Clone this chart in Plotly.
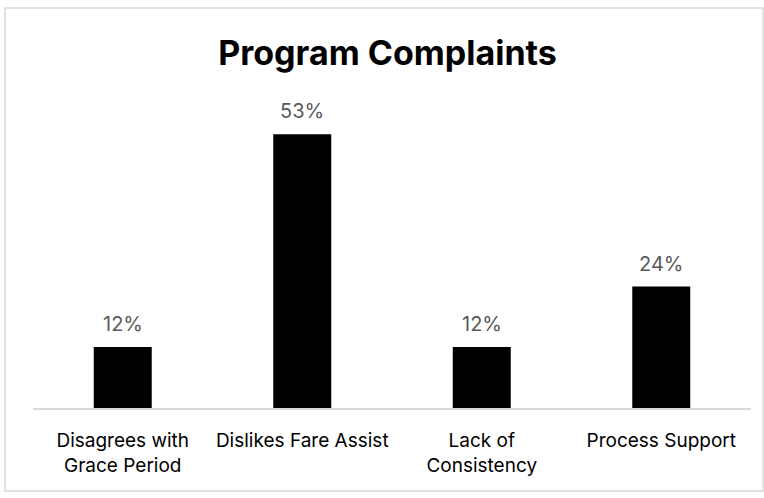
import plotly.graph_objects as go

categories = ["Disagrees with<br>Grace Period", "Dislikes Fare Assist", "Lack of<br>Consistency", "Process Support"]
values = [0.118, 0.53, 0.118, 0.235]
labels = ["12%", "53%", "12%", "24%"]

FONT = "Inter"

fig = go.Figure(go.Bar(
    x=categories, y=values,
    marker=dict(color="black", line=dict(width=0)),
    hoverinfo="skip",
))

for c, v, s in zip(categories, values, labels):
    fig.add_annotation(x=c, y=v, text=s, showarrow=False, yanchor="bottom",
                       yshift=9, font=dict(color="#595959", size=20, family=FONT))

W, H = 764, 498
l, r, t, b = 33, 13, 98, 90
pw, ph = W - l - r, H - t - b

def px(x):
    return (x - l) / pw

def py(y):
    return (H - b - y) / ph

fig.update_layout(
    width=W, height=H,
    margin=dict(l=l, r=r, t=t, b=b),
    paper_bgcolor="white", plot_bgcolor="white",
    bargap=0.677,
    showlegend=False,
    title=dict(text="<b>Program Complaints</b>", x=387.5 / W, xanchor="center",
               y=1 - 53 / H, yanchor="middle",
               font=dict(size=34, color="black", family=FONT)),
    xaxis=dict(showline=True, linecolor="#d9d9d9", linewidth=2, ticks="",
               tickfont=dict(size=19, color="black", family=FONT),
               ticklabelstandoff=14,
               showgrid=False, fixedrange=True),
    yaxis=dict(range=[0, 0.6], visible=False, showgrid=False, fixedrange=True),
    shapes=[dict(type="rect", xref="paper", yref="paper",
                 x0=px(5), x1=px(763), y0=py(8), y1=py(491),
                 line=dict(color="#d9d9d9", width=1.5), fillcolor="rgba(0,0,0,0)", layer="below")],
)

fig.write_html("out.html")
